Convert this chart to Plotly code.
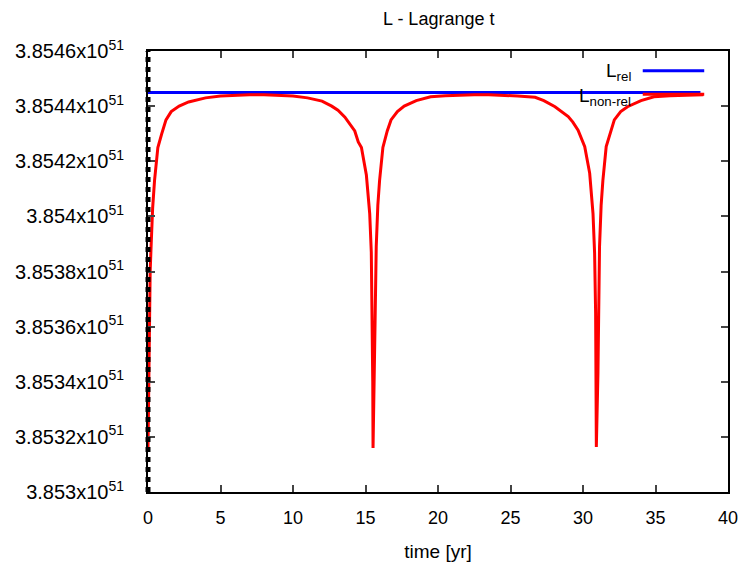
import plotly.graph_objects as go

# time [yr]
t_nonrel = [0.00, 0.04, 0.08, 0.15, 0.22, 0.32, 0.45, 0.68, 0.95, 1.24, 1.60, 2.15, 2.80, 3.97,
            5.00, 6.00, 7.00, 8.00, 9.00, 10.00, 11.00, 12.00, 12.67, 13.10, 13.58, 14.00, 14.26,
            14.50, 14.72, 15.06, 15.29, 15.40, 15.47, 15.50, 15.52, 15.63, 15.67, 15.74, 15.85,
            15.97, 16.20, 16.50, 16.76, 17.20, 17.67, 18.50, 19.49, 20.50, 21.50, 22.50, 23.50,
            24.50, 25.50, 26.70, 27.30, 28.07, 28.98, 29.30, 29.66, 30.12, 30.46, 30.69, 30.80,
            30.87, 30.90, 30.92, 31.03, 31.07, 31.14, 31.25, 31.37, 31.60, 31.90, 32.16, 32.60,
            33.07, 34.00, 34.89, 36.00, 37.00, 38.30]
# L non-relativistic, in units of 1e51
L_nonrel = [3.85316, 3.85335, 3.85358, 3.85380, 3.85390, 3.85403, 3.85413, 3.85425, 3.85430,
            3.85435, 3.85438, 3.85440, 3.854415, 3.85443, 3.854437, 3.85444, 3.854441, 3.854441,
            3.85444, 3.854437, 3.85443, 3.854418, 3.85440, 3.854385, 3.85436, 3.85433, 3.85431,
            3.85427, 3.85425, 3.85415, 3.85401, 3.85387, 3.85365, 3.85340, 3.85316, 3.85343,
            3.85365, 3.85389, 3.85404, 3.85413, 3.85425, 3.85431, 3.85435, 3.85438, 3.85440,
            3.85442, 3.854434, 3.854438, 3.85444, 3.854441, 3.854441, 3.85444, 3.854437,
            3.854432, 3.85442, 3.854398, 3.854362, 3.854342, 3.854313, 3.854253, 3.854157,
            3.85401, 3.853867, 3.85365, 3.85340, 3.853163, 3.85343, 3.85365, 3.85389, 3.85404,
            3.85413, 3.854253, 3.85431, 3.85435, 3.85438, 3.854398, 3.85442, 3.854434,
            3.854438, 3.85444, 3.854441]

t_rel = [0.0, 38.1]
L_rel = [3.854449, 3.854449]

x_ticks = [0, 5, 10, 15, 20, 25, 30, 35, 40]
y_ticks = [3.853, 3.8532, 3.8534, 3.8536, 3.8538, 3.854, 3.8542, 3.8544, 3.8546]
y_tick_text = ["3.853x10<sup>51</sup>", "3.8532x10<sup>51</sup>", "3.8534x10<sup>51</sup>",
               "3.8536x10<sup>51</sup>", "3.8538x10<sup>51</sup>", "3.854x10<sup>51</sup>",
               "3.8542x10<sup>51</sup>", "3.8544x10<sup>51</sup>", "3.8546x10<sup>51</sup>"]

x_range = [0, 40]
y_range = [3.853, 3.8546]

FONT = "Liberation Sans, Arial, sans-serif"

fig = go.Figure()

fig.add_trace(go.Scatter(x=t_rel, y=L_rel, mode="lines",
                         line=dict(color="#0000ff", width=3), showlegend=False))
fig.add_trace(go.Scatter(x=t_nonrel, y=L_nonrel, mode="lines",
                         line=dict(color="#ff0000", width=3), showlegend=False))

fig.update_layout(
    width=750, height=571,
    margin=dict(l=148, r=16, t=51, b=79),
    paper_bgcolor="white", plot_bgcolor="white",
    font=dict(family=FONT, color="black", size=18),
    title=dict(text="L - Lagrange t", x=0.585, xanchor="center", y=0.968, yanchor="middle",
               font=dict(size=18, family=FONT)),
    xaxis=dict(range=x_range, tickvals=x_ticks, ticks="inside", ticklen=7, tickwidth=2,
               showline=True, linecolor="black", linewidth=2, mirror="ticks",
               showgrid=False, zeroline=False, tickfont=dict(size=18),
               ticklabelstandoff=8,
               title=dict(text="time [yr]", font=dict(size=19), standoff=18)),
    yaxis=dict(range=y_range, tickvals=y_ticks, ticktext=y_tick_text, ticks="inside",
               ticklen=7, tickwidth=2, showline=True, linecolor="black", linewidth=2,
               mirror="ticks", showgrid=False, zeroline=False, tickfont=dict(size=20),
               ticklabelstandoff=18),
    shapes=[
        # black dotted marker column along t = 0
        dict(type="line", xref="paper", yref="paper", x0=0, x1=0, y0=0, y1=1, layer="above",
             line=dict(color="black", width=5, dash="dot")),
        dict(type="line", xref="paper", yref="paper", x0=0.853, x1=0.959, y0=0.9553, y1=0.9553,
             line=dict(color="#0000ff", width=3)),
        dict(type="line", xref="paper", yref="paper", x0=0.853, x1=0.959, y0=0.9018, y1=0.9018,
             line=dict(color="#ff0000", width=3)),
    ],
    annotations=[
        dict(text="L<sub>rel</sub>", xref="paper", yref="paper", x=0.836, y=0.952,
             xanchor="right", yanchor="middle", showarrow=False, font=dict(size=19)),
        dict(text="L<sub>non-rel</sub>", xref="paper", yref="paper", x=0.836, y=0.896,
             xanchor="right", yanchor="middle", showarrow=False, font=dict(size=19)),
    ],
)

fig.write_html("out.html")
